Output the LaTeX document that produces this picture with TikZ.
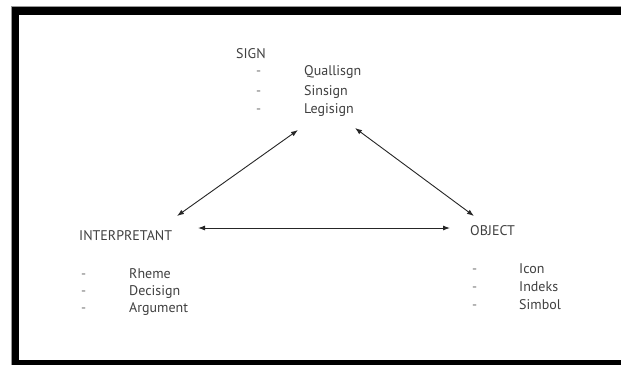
\documentclass[tikz,border=0pt]{standalone}
\usepackage{fontspec}
\setmainfont{PT Sans}
\usetikzlibrary{arrows.meta}
\begin{document}
\begin{tikzpicture}[x=1pt,y=-1pt,
  lbl/.style={anchor=base west,inner sep=0pt,text=black!75,font=\fontsize{14}{16}\selectfont},
  dashmark/.style={lbl,text=black!55},
  link/.style={draw=black!85,line width=0.9pt,{Latex[length=7pt,width=5pt]}-{Latex[length=7pt,width=5pt]}}]
\useasboundingbox (0,0) rectangle (621,365);
\fill[white] (0,0) rectangle (621,365);
% frame
\fill[black] (12,7) rectangle (621,15);
\fill[black] (12,7) rectangle (19,365);
\fill[black] (12,360) rectangle (621,365);
\draw[black!40,line width=0.6pt] (11,6) -- (621,6);
\draw[black!40,line width=0.6pt] (11,6) -- (11,365);
% SIGN
\node[lbl] (sign) at (236,58) {SIGN};
\node[dashmark] (sd1) at (256,75) {-};
\node[dashmark] (sd2) at (256,95) {-};
\node[dashmark] (sd3) at (256,113) {-};
\node[lbl] (qual) at (304,75) {Quallisgn};
\node[lbl] (sins) at (304,95) {Sinsign};
\node[lbl] (legi) at (304,113) {Legisign};
% INTERPRETANT
\node[lbl] (interp) at (79,240) {INTERPRETANT};
\node[dashmark] (id1) at (81,278) {-};
\node[dashmark] (id2) at (81,295) {-};
\node[dashmark] (id3) at (81,312) {-};
\node[lbl] (rheme) at (129,278) {Rheme};
\node[lbl] (deci) at (129,295) {Decisign};
\node[lbl] (argu) at (129,312) {Argument};
% OBJECT
\node[lbl] (obj) at (470,235) {OBJECT};
\node[dashmark] (od1) at (472,273) {-};
\node[dashmark] (od2) at (472,291) {-};
\node[dashmark] (od3) at (472,309) {-};
\node[lbl] (icon) at (519,273) {Icon};
\node[lbl] (indeks) at (519,291) {Indeks};
\node[lbl] (simbol) at (519,309) {Simbol};
% arrow ends
\coordinate (sL) at (298,130);
\coordinate (sR) at (355,128);
\coordinate (iT) at (177,216);
\coordinate (iR) at (198,228);
\coordinate (oT) at (474,216);
\coordinate (oL) at (450,228);
\draw[link] (sL) -- (iT);
\draw[link] (sR) -- (oT);
\draw[link] (iR) -- (oL);
\end{tikzpicture}
\end{document}
